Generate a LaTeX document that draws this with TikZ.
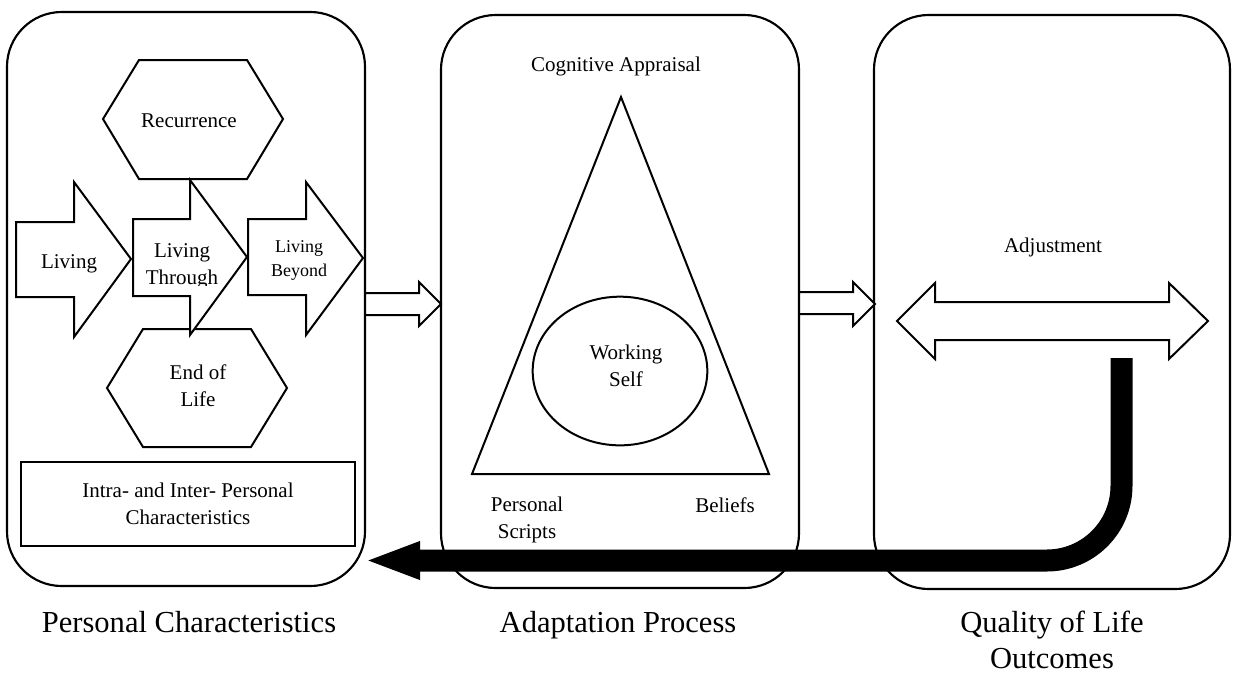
\documentclass[tikz,border=0pt]{standalone}
\usepackage{fontspec}
\setmainfont{Liberation Serif}
\usetikzlibrary{arrows.meta,shapes.geometric}
\begin{document}
\begin{tikzpicture}[x=0.75pt,y=-0.75pt,
  panel/.style={draw, line width=1.6pt, rounded corners=41pt},
  blockshape/.style={draw, fill=white, line width=1.5pt, line join=miter},
  txt/.style={inner sep=0pt, font=\fontsize{15.75pt}{20.5pt}\selectfont, align=center},
  smalltxt/.style={inner sep=0pt, font=\fontsize{13.5pt}{18pt}\selectfont, align=center},
  big/.style={inner sep=0pt, font=\fontsize{22.9pt}{27pt}\selectfont, align=center},
  feedback/.style={line width=16.5pt, rounded corners=56pt, -{Triangle[length=42pt,width=25.5pt]}}
]
\useasboundingbox (0,0) rectangle (1233,687);
\fill[white] (0,0) rectangle (1233,687);

% panels
\draw[panel] (7,12) rectangle (365,586);
\draw[panel] (441,15) rectangle (799,588);
\draw[panel] (874,15) rectangle (1230,589);

% block arrows between panels
\draw[blockshape] (365,293) -- (419,293) -- (419,282) -- (441,304) -- (419,326) -- (419,315) -- (365,315) -- cycle;
\draw[blockshape] (799,292) -- (853,292) -- (853,282) -- (875,304) -- (853,326) -- (853,314) -- (799,314) -- cycle;

% left panel: hexagons
\draw[blockshape] (103,119) -- (139,60) -- (247,60) -- (283,119) -- (247,179) -- (139,179) -- cycle;
\node[txt, anchor=base] (rec) at (189,127) {Recurrence};
\draw[blockshape] (107,388) -- (143,329) -- (251,329) -- (287,388) -- (251,447) -- (143,447) -- cycle;
\node[txt] (eol) at (198,386) {End of\\Life};

% living arrows
\draw[blockshape] (16,222) -- (74,222) -- (74,182) -- (131,259) -- (74,337) -- (74,297) -- (16,297) -- cycle;
\node[txt, anchor=base] (liv) at (69,268) {Living};
\draw[blockshape] (133,219) -- (190,219) -- (190,180) -- (247,257) -- (190,335) -- (190,296) -- (133,296) -- cycle;
\begin{scope}
  \clip (134,200) rectangle (246,285);
  \node[txt] (livthr) at (182,266) {Living\\Through};
\end{scope}
\draw[blockshape] (248,219) -- (306,219) -- (306,182) -- (363,258) -- (306,335) -- (306,295) -- (248,295) -- cycle;
\node[smalltxt] (livbey) at (299,260) {Living\\Beyond};

% intra box
\node[txt, draw, line width=1.5pt, minimum width=250.5pt, minimum height=63pt] (intra) at (188,504)
  {Intra- and Inter- Personal\\Characteristics};

% middle panel
\node[txt, anchor=base] (cog) at (616,71) {Cognitive Appraisal};
\draw[blockshape] (621,97) -- (769,474) -- (472,474) -- cycle;
\node[ellipse, draw, line width=1.5pt, minimum width=131pt, minimum height=111.5pt, inner sep=0pt] (wsell) at (620,371) {};
\node[txt] (ws) at (626,366) {Working\\Self};
\node[txt] (ps) at (527,520) {Personal\\Scripts};
\node[txt, anchor=base] (bel) at (725,512) {Beliefs};

% right panel
\node[txt, anchor=base] (adj) at (1053,252) {Adjustment};
\draw[blockshape] (897,321) -- (935,283) -- (935,302) -- (1169,302) -- (1169,283) -- (1208,321) -- (1169,359) -- (1169,340) -- (935,340) -- (935,359) -- cycle;

% feedback arrow
\coordinate (fbstart) at (1121.5,358);
\coordinate (fbend) at (364,560.5);
\draw[feedback] (fbstart) |- (fbend);

% captions
\node[big, anchor=base] (cap1) at (189,632) {Personal Characteristics};
\node[big, anchor=base] (cap2) at (618,632) {Adaptation Process};
\node[big] (cap3) at (1052,640) {Quality of Life\\Outcomes};
\end{tikzpicture}
\end{document}
